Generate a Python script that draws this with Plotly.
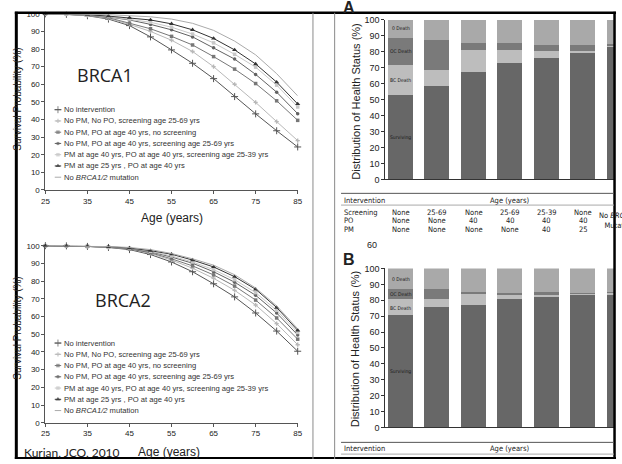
import plotly.graph_objects as go

W, H = 622, 464

# ---------------- data ----------------
ages = [25, 30, 35, 40, 45, 50, 55, 60, 65, 70, 75, 80, 85]

strategies = [
    "No intervention",
    "No PM, No PO, screening age 25-69 yrs",
    "No PM, PO at age 40 yrs, no screening",
    "No PM, PO at age 40 yrs, screening age 25-69 yrs",
    "PM at age 40 yrs, PO at age 40 yrs, screening age 25-39 yrs",
    "PM at age 25 yrs , PO at age 40 yrs",
    "No <i>BRCA1/2</i> mutation",
]

brca1_no_intervention = [100, 99.7, 98.9, 97.0, 93.3, 86.9, 79.5, 71.9, 63.2, 53.0, 43.2, 33.6, 24.4]
brca1_screening = [100, 99.8, 99.1, 97.4, 94.0, 90.0, 85.0, 78.6, 70.0, 60.0, 49.7, 38.8, 28.0]
brca1_po40 = [100, 99.8, 99.2, 97.8, 94.6, 91.5, 87.2, 82.3, 75.7, 68.6, 60.4, 50.6, 39.5]
brca1_po40_screening = [100, 99.8, 99.3, 98.2, 96.5, 94.0, 90.9, 86.9, 80.8, 74.3, 65.6, 55.5, 43.3]
brca1_pm40_po40_screening = [100, 99.8, 99.3, 98.4, 97.0, 95.2, 92.4, 88.5, 83.5, 77.0, 69.7, 59.5, 47.1]
brca1_pm25_po40 = [100, 99.9, 99.5, 98.7, 97.8, 96.5, 94.3, 90.9, 86.0, 79.5, 71.5, 61.2, 48.8]
brca1_no_mutation = [100, 99.9, 99.7, 99.5, 98.9, 98.3, 97.0, 94.6, 90.6, 84.5, 76.7, 66.0, 53.4]

brca2_no_intervention = [100, 99.9, 99.6, 99.0, 97.8, 95.0, 90.8, 85.3, 78.5, 71.1, 62.0, 51.8, 40.4]
brca2_screening = [100, 99.9, 99.6, 99.1, 98.2, 95.6, 91.9, 87.3, 81.6, 74.8, 66.5, 56.0, 44.1]
brca2_po40 = [100, 99.9, 99.6, 99.1, 98.2, 96.0, 92.6, 88.6, 83.5, 77.2, 69.3, 59.2, 47.2]
brca2_po40_screening = [100, 99.9, 99.6, 99.2, 98.4, 96.5, 93.6, 90.1, 85.3, 79.4, 72.0, 62.0, 49.6]
brca2_pm40_po40_screening = [100, 99.9, 99.6, 99.2, 98.6, 96.8, 94.2, 90.8, 86.5, 80.8, 73.5, 63.5, 51.0]
brca2_pm25_po40 = [100, 99.9, 99.7, 99.4, 98.7, 97.2, 95.2, 91.9, 88.0, 82.5, 75.4, 65.1, 52.2]
brca2_no_mutation = [100, 99.9, 99.7, 99.5, 99.0, 97.8, 95.6, 92.6, 89.0, 83.6, 76.1, 66.0, 53.1]

age_ticks = [25, 35, 45, 55, 65, 75, 85]

# bar panels (A: BRCA1, B: BRCA2)
bar_screening = ["None", "25-69", "None", "25-69", "25-39", "None"]
bar_po = ["None", "None", "40", "40", "40", "40"]
bar_pm = ["None", "None", "None", "None", "40", "25"]
bar_last_label = "No <i>BRCA1/2</i><br>Mutation"
status_labels = ["Surviving", "BC Death", "OC Death", "O Death"]

a_surviving = [53.0, 59.0, 67.3, 73.3, 76.5, 79.5, 83.5]
a_bc_death = [19.0, 10.0, 14.0, 8.0, 4.0, 0.8, 0.8]
a_oc_death = [17.0, 18.5, 4.0, 4.0, 3.8, 4.0, 0.7]
a_o_death = [round(100 - s - b - o, 1) for s, b, o in zip(a_surviving, a_bc_death, a_oc_death)]

b_surviving = [70.4, 75.4, 76.6, 80.5, 81.6, 83.4, 83.6]
b_bc_death = [10.1, 5.1, 7.4, 3.1, 2.0, 0.3, 0.7]
b_oc_death = [6.3, 6.0, 0.8, 0.9, 1.2, 0.3, 0.5]
b_o_death = [round(100 - s - b - o, 1) for s, b, o in zip(b_surviving, b_bc_death, b_oc_death)]

# ---------------- styles ----------------
line_styles = [
    dict(color="#555555", symbol="cross-thin", size=5, lw=1),
    dict(color="#b8b8b8", symbol="cross", size=3.5, lw=0),
    dict(color="#777777", symbol="square", size=3.5, lw=0),
    dict(color="#626262", symbol="circle", size=3.5, lw=0),
    dict(color="#c8c8c8", symbol="square", size=3.5, lw=0),
    dict(color="#333333", symbol="triangle-up", size=4.5, lw=0),
    dict(color="#aaaaaa", symbol=None, size=0, lw=0),
]
bar_colors = ["#676767", "#bdbdbd", "#7a7a7a", "#a9a9a9"]
FONT = "Liberation Sans, Arial, sans-serif"
NARROW = "Liberation Sans Narrow, DejaVu Sans Condensed, Liberation Sans, sans-serif"


def px(x):
    return x / W


def py(y):
    return 1 - y / H


fig = go.Figure()

# ---------------- line charts ----------------
brca1 = [brca1_no_intervention, brca1_screening, brca1_po40, brca1_po40_screening,
         brca1_pm40_po40_screening, brca1_pm25_po40, brca1_no_mutation]
brca2 = [brca2_no_intervention, brca2_screening, brca2_po40, brca2_po40_screening,
         brca2_pm40_po40_screening, brca2_pm25_po40, brca2_no_mutation]

for xa, ya, series in [("x", "y", brca1), ("x2", "y2", brca2)]:
    for name, vals, st in zip(strategies, series, line_styles):
        mk = None
        if st["symbol"]:
            mk = dict(symbol=st["symbol"], size=st["size"], color=st["color"],
                      line=dict(color=st["color"], width=st["lw"]))
        fig.add_trace(go.Scatter(
            x=ages, y=vals, xaxis=xa, yaxis=ya, name=name,
            mode="lines+markers" if st["symbol"] else "lines",
            line=dict(color=st["color"], width=1), marker=mk,
            showlegend=False, cliponaxis=False, hoverinfo="skip"))

# manual compact legends (samples on a pixel overlay axis)
annotations = []
for top in (107, 345.5):
    for i, (name, st) in enumerate(zip(strategies, line_styles)):
        yy = top + i * 11.5
        lx0, lx1 = 51.5, 58.0
        mk = dict(size=[0, st["size"], 0], symbol=st["symbol"] or "circle",
                  color=st["color"], line=dict(color=st["color"], width=st["lw"]))
        fig.add_trace(go.Scatter(
            x=[lx0, (lx0 + lx1) / 2, lx1], y=[yy] * 3, xaxis="x5", yaxis="y5",
            mode="lines+markers" if st["symbol"] else "lines",
            line=dict(color=st["color"], width=1), marker=mk,
            showlegend=False, hoverinfo="skip", cliponaxis=False))
        annotations.append(dict(
            x=px(59), y=py(yy), xref="paper", yref="paper", text=name,
            showarrow=False, xanchor="left", yanchor="middle",
            font=dict(family=FONT, size=7.6, color="#333333")))

# ---------------- bar charts ----------------
BAR_R0, BAR_R1 = -0.419, 5.851
BAR_DOM = (px(387), px(619))


def bar_paper_x(i):
    return BAR_DOM[0] + (i - BAR_R0) / (BAR_R1 - BAR_R0) * (BAR_DOM[1] - BAR_DOM[0])


idx = list(range(len(a_surviving)))
for xa, ya, stacks in [("x3", "y3", [a_surviving, a_bc_death, a_oc_death, a_o_death]),
                       ("x4", "y4", [b_surviving, b_bc_death, b_oc_death, b_o_death])]:
    base = 0
    for lab, vals, col in zip(status_labels, stacks, bar_colors):
        fig.add_trace(go.Bar(x=idx, y=vals, xaxis=xa, yaxis=ya, name=lab, width=0.68,
                             marker=dict(color=col, line=dict(width=0)),
                             showlegend=False, hoverinfo="skip"))
        mid = base + vals[0] / 2
        shown = "0 Death" if lab == "O Death" else lab
        annotations.append(dict(x=0, y=mid, xref=xa, yref=ya, text=shown, showarrow=False,
                                font=dict(family=NARROW, size=5, color="#1a1a1a")))
        base += vals[0]

# tables under bars
TBL = dict(family=NARROW, size=7.5, color="#222")
for hdr_y, rows_y in [(199.5, (212, 220.5, 229)), (453, None)]:
    annotations.append(dict(x=px(343), y=py(hdr_y), xref="paper", yref="paper", text="Intervention",
                            showarrow=False, xanchor="left", yanchor="middle", font=TBL))
    annotations.append(dict(x=px(513), y=py(hdr_y), xref="paper", yref="paper", text="Age (years)",
                            showarrow=False, xanchor="center", yanchor="middle", font=TBL))
    if rows_y:
        for lab, vals, yy in zip(["Screening", "PO", "PM"], [bar_screening, bar_po, bar_pm], rows_y):
            annotations.append(dict(x=px(343), y=py(yy), xref="paper", yref="paper", text=lab,
                                    showarrow=False, xanchor="left", yanchor="middle", font=TBL))
            for i, v in enumerate(vals):
                annotations.append(dict(x=bar_paper_x(i), y=py(yy), xref="paper", yref="paper", text=v,
                                        showarrow=False, xanchor="center", yanchor="middle", font=TBL))
        annotations.append(dict(x=bar_paper_x(6), y=py(220.5), xref="paper", yref="paper",
                                text=bar_last_label, showarrow=False, xanchor="center", yanchor="middle",
                                font=TBL))

# other texts
texts = [
    dict(x=72, y=72, text="BRCA1", size=18, fam="Open Sans, Lato, sans-serif", xa="left", angle=0),
    dict(x=90, y=302, text="BRCA2", size=18, fam="Open Sans, Lato, sans-serif", xa="left", angle=0),
    dict(x=170, y=218, text="Age (years)", size=12, fam=FONT, xa="center", angle=0),
    dict(x=167, y=457, text="Age (years)", size=12, fam=FONT, xa="center", angle=0),
    dict(x=18, y=457, text="Kurian, JCO, 2010", size=12, fam="Lato, Open Sans, sans-serif", xa="left", angle=0),
    dict(x=14, y=96, text="Survival Probability (%)", size=10, fam=FONT, xa="center", angle=-90),
    dict(x=14, y=330, text="Survival Probability (%)", size=10, fam=FONT, xa="center", angle=-90),
    dict(x=357, y=98, text="Distribution of Health Status (%)", size=11, fam=FONT, xa="center", angle=-90),
    dict(x=357, y=351, text="Distribution of Health Status (%)", size=11, fam=FONT, xa="center", angle=-90),
    dict(x=373, y=245, text="60", size=9, fam=FONT, xa="center", angle=0),
    dict(x=342, y=260, text="<b>B</b>", size=16, fam=FONT, xa="left", angle=0),
    dict(x=342, y=3, text="<b>A</b>", size=16, fam=FONT, xa="left", angle=0),
]
for t in texts:
    annotations.append(dict(x=px(t["x"]), y=py(t["y"]), xref="paper", yref="paper", text=t["text"],
                            showarrow=False, xanchor=t["xa"], yanchor="middle", textangle=t["angle"],
                            font=dict(family=t["fam"], size=t["size"], color="#222")))

# frame & separators
shapes = []


def hline(x0, x1, y, color, width):
    shapes.append(dict(type="line", xref="paper", yref="paper", x0=px(x0), x1=px(x1),
                       y0=py(y), y1=py(y), line=dict(color=color, width=width), layer="above"))


def vline(x, y0, y1, color, width):
    shapes.append(dict(type="line", xref="paper", yref="paper", x0=px(x), x1=px(x),
                       y0=py(y0), y1=py(y1), line=dict(color=color, width=width), layer="above"))


shapes.append(dict(type="rect", xref="paper", yref="paper", x0=0, x1=1, y0=py(7), y1=1,
                   fillcolor="white", line=dict(width=0), layer="above"))
hline(11, 621, 8, "#000", 2.5)
hline(11, 621, 463, "#000", 2)
vline(12.5, 7, 464, "#000", 3)
vline(619.5, 7, 464, "#000", 2.5)
vline(313.5, 8, 464, "#8a8a8a", 1)
vline(335.5, 8, 464, "#8a8a8a", 1)
hline(342, 619, 192.5, "#555", 1)
hline(342, 619, 204.5, "#aaa", 1)
hline(342, 619, 447, "#555", 1)
hline(342, 619, 459, "#aaa", 1)

# ---------------- layout ----------------
line_x = dict(range=[25, 85], tickvals=age_ticks, ticks="outside", ticklen=3, tickwidth=1,
              tickcolor="#555", showline=True, linecolor="#555", linewidth=1, showgrid=False,
              zeroline=False, tickfont=dict(family=FONT, size=8, color="#222"),
              domain=[px(42), px(298)])
line_y = dict(range=[0, 100], dtick=10, ticks="outside", ticklen=3, tickwidth=1, tickcolor="#555",
              showline=True, linecolor="#555", linewidth=1, showgrid=False, zeroline=False,
              tickfont=dict(family=FONT, size=8, color="#222"))
bar_x = dict(range=[BAR_R0, BAR_R1], showticklabels=False, ticks="", showline=True,
             linecolor="#333", linewidth=1, showgrid=False, zeroline=False, domain=list(BAR_DOM))
bar_y = dict(range=[0, 100], dtick=10, ticks="outside", ticklen=3, tickwidth=1, tickcolor="#333",
             showline=True, linecolor="#333", linewidth=1, showgrid=False, zeroline=False,
             tickfont=dict(family=FONT, size=9, color="#222"))

fig.update_layout(
    width=W, height=H, margin=dict(l=0, r=0, t=0, b=0),
    paper_bgcolor="white", plot_bgcolor="rgba(0,0,0,0)", barmode="stack", bargap=0,
    showlegend=False,
    xaxis=dict(line_x, anchor="y"),
    yaxis=dict(line_y, anchor="x", domain=[py(189), py(9)]),
    xaxis2=dict(line_x, anchor="y2"),
    yaxis2=dict(line_y, anchor="x2", domain=[py(427), py(246)]),
    xaxis3=dict(bar_x, anchor="y3"),
    yaxis3=dict(bar_y, anchor="x3", domain=[py(178.3), py(15)]),
    xaxis4=dict(bar_x, anchor="y4"),
    yaxis4=dict(bar_y, anchor="x4", domain=[py(431.7), py(269.3)]),
    xaxis5=dict(range=[0, W], domain=[0, 1], visible=False, anchor="y5", fixedrange=True),
    yaxis5=dict(range=[H, 0], domain=[0, 1], visible=False, anchor="x5", fixedrange=True),
    annotations=annotations, shapes=shapes,
)

fig.write_html("out.html")
